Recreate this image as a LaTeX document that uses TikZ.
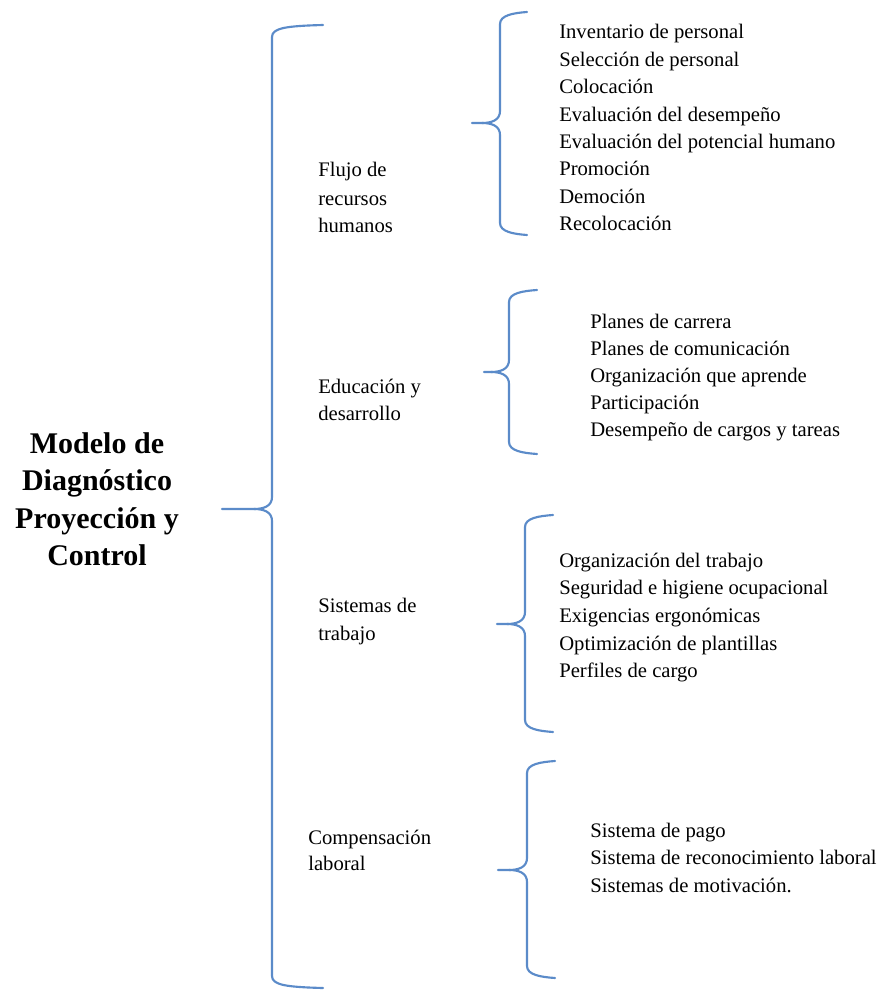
\documentclass[tikz,border=0pt]{standalone}
\usepackage{fontspec}
\setmainfont{Liberation Serif}
\definecolor{bracecol}{RGB}{91,139,201}
\newcommand{\drawbrace}[6]{% xe, xv, xtip, ytop, ytip, ybot
  \draw[bracestyle] (#1,#4) .. controls ({#2+14},{#4+1}) and (#2,{#4+3}) .. (#2,{#4+12})
    -- (#2,{#5-12}) .. controls (#2,{#5-3}) and ({#2-8},#5) .. ({#2-18},#5) -- (#3,#5);
  \draw[bracestyle] ({#2-18},#5) .. controls ({#2-8},#5) and (#2,{#5+3}) .. (#2,{#5+12})
    -- (#2,{#6-12}) .. controls (#2,{#6-3}) and ({#2+14},{#6-1}) .. (#1,#6);
}
\tikzset{
  bracestyle/.style={draw=bracecol, line width=1.6pt, line cap=round, line join=round},
  itemtext/.style={anchor=base west, inner sep=0pt, font=\fontsize{15.5pt}{18pt}\selectfont},
  titletext/.style={anchor=base, inner sep=0pt, font=\fontsize{22.5pt}{26pt}\selectfont\bfseries},
}
\begin{document}
\begin{tikzpicture}[x=0.75pt,y=-0.75pt]
\useasboundingbox (0,0) rectangle (883,991);
% title
\foreach \t [count=\i] in {Modelo de, Diagnóstico, Proyección y, Control}
  \node[titletext] (title\i) at (97,{453+(\i-1)*37.6}) {\t};
% braces
\drawbrace{323}{272}{222}{25}{509}{988}
\drawbrace{527}{500}{472}{12}{123}{235}
\drawbrace{537}{509}{484}{290}{372}{454}
\drawbrace{553}{525}{497}{515}{624}{732}
\drawbrace{555}{527}{498}{761}{870}{978}
% middle labels
\foreach \t [count=\i] in {Flujo de, recursos, humanos}
  \node[itemtext] (fa\i) at (318,{177+(\i-1)*28}) {\t};
\foreach \t [count=\i] in {Educación y, desarrollo}
  \node[itemtext] (fb\i) at (318,{393+(\i-1)*27.5}) {\t};
\foreach \t [count=\i] in {Sistemas de, trabajo}
  \node[itemtext] (fc\i) at (318,{612+(\i-1)*28}) {\t};
\foreach \t [count=\i] in {Compensación, laboral}
  \node[itemtext] (fd\i) at (308,{844+(\i-1)*26.5}) {\t};
% lists
\foreach \t [count=\i] in {Inventario de personal, Selección de personal, Colocación,
  Evaluación del desempeño, Evaluación del potencial humano, Promoción, Democión, Recolocación}
  \node[itemtext] (la\i) at (559,{39+(\i-1)*27.4}) {\t};
\foreach \t [count=\i] in {Planes de carrera, Planes de comunicación, Organización que aprende,
  Participación, Desempeño de cargos y tareas}
  \node[itemtext] (lb\i) at (590,{328+(\i-1)*27.2}) {\t};
\foreach \t [count=\i] in {Organización del trabajo, Seguridad e higiene ocupacional,
  Exigencias ergonómicas, Optimización de plantillas, Perfiles de cargo}
  \node[itemtext] (lc\i) at (559,{567+(\i-1)*27.7}) {\t};
\foreach \t [count=\i] in {Sistema de pago, Sistema de reconocimiento laboral, Sistemas de motivación.}
  \node[itemtext] (ld\i) at (590,{837+(\i-1)*27.5}) {\t};
\end{tikzpicture}
\end{document}
